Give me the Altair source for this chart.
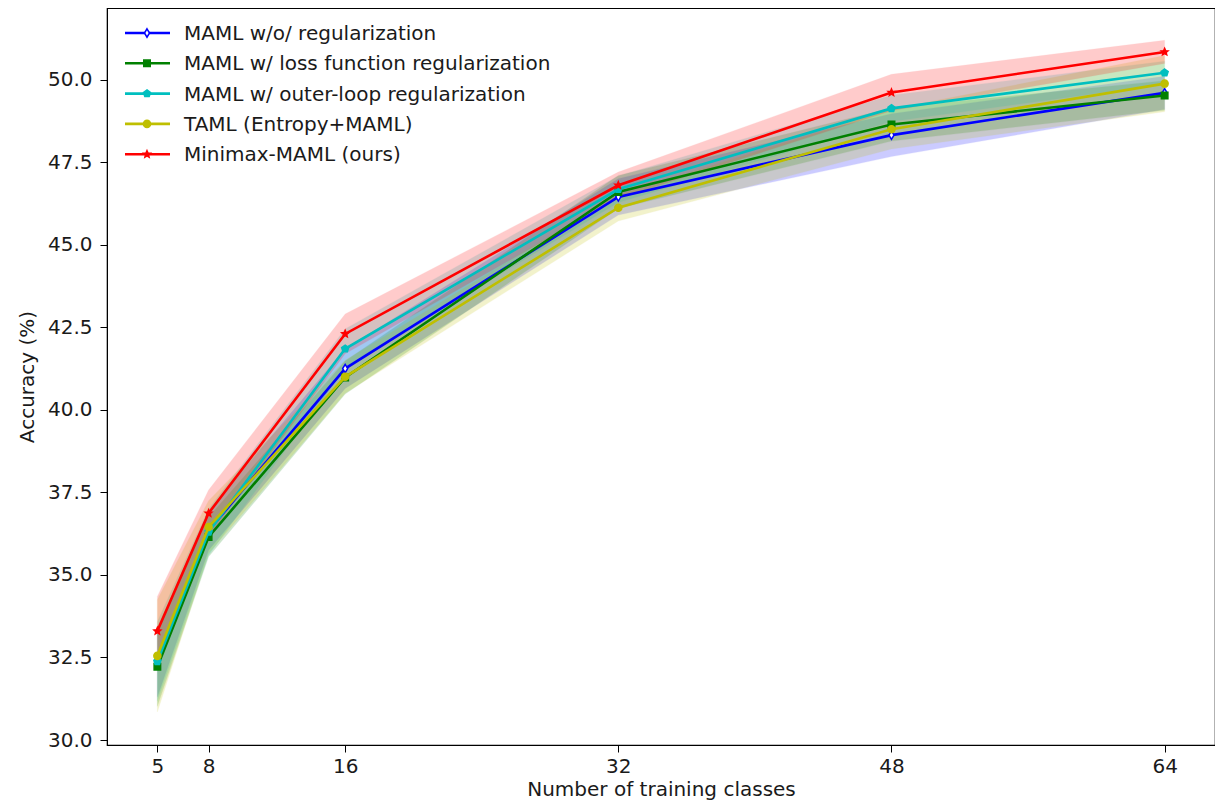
import math
import altair as alt
import pandas as pd

# ---------------- data ----------------
classes = [5, 8, 16, 32, 48, 64]
names = [
    "MAML w/o/ regularization",
    "MAML w/ loss function regularization",
    "MAML w/ outer-loop regularization",
    "TAML (Entropy+MAML)",
    "Minimax-MAML (ours)",
]
mean_blue = [32.30, 36.35, 41.25, 46.45, 48.32, 49.60]
mean_green = [32.22, 36.15, 40.98, 46.60, 48.64, 49.52]
mean_cyan = [32.38, 36.30, 41.85, 46.68, 49.13, 50.21]
mean_yellow = [32.55, 36.45, 41.00, 46.12, 48.50, 49.88]
mean_red = [33.30, 36.87, 42.30, 46.80, 49.61, 50.84]

std_blue = [1.00, 0.60, 0.60, 0.55, 0.65, 0.50]
std_green = [1.20, 0.60, 0.50, 0.50, 0.50, 0.45]
std_cyan = [1.20, 0.70, 0.60, 0.40, 0.40, 0.35]
std_yellow = [1.70, 0.80, 0.50, 0.40, 0.60, 0.85]
std_red = [1.05, 0.70, 0.60, 0.40, 0.55, 0.35]

means = [mean_blue, mean_green, mean_cyan, mean_yellow, mean_red]
stds = [std_blue, std_green, std_cyan, std_yellow, std_red]
colors = ["#0000ff", "#008000", "#00bfbf", "#bfbf00", "#ff0000"]

rows = []
for n, ms, ss in zip(names, means, stds):
    for x, m, s in zip(classes, ms, ss):
        rows.append({"series": n, "x": x, "y": m, "lo": m - s, "hi": m + s})
df = pd.DataFrame(rows)


# ---------------- marker shapes ----------------
def star_path(n=5, inner=0.45):
    pts = []
    for k in range(2 * n):
        r = 1.0 if k % 2 == 0 else inner
        a = -math.pi / 2 + k * math.pi / n
        pts.append((r * math.cos(a), r * math.sin(a)))
    return "M" + "L".join(f"{px:.3f},{py:.3f}" for px, py in pts) + "Z"


def poly_path(n=5):
    pts = []
    for k in range(n):
        a = -math.pi / 2 + k * 2 * math.pi / n
        pts.append((math.cos(a), math.sin(a)))
    return "M" + "L".join(f"{px:.3f},{py:.3f}" for px, py in pts) + "Z"


thin_diamond = "M0,-1L0.6,0L0,1L-0.6,0Z"
shapes = [thin_diamond, "square", poly_path(5), "circle", star_path()]
sizes = [70, 42, 55, 50, 50]
fills = ["white", colors[1], colors[2], colors[3], colors[4]]

FONT = "DejaVu Sans"
FS = 20

xs = alt.Scale(domain=[2.05, 66.95], nice=False, zero=False)
ys = alt.Scale(domain=[29.85, 52.17], nice=False, zero=False)
color = alt.Color("series:N", scale=alt.Scale(domain=names, range=colors), legend=None)

x_enc = alt.X(
    "x:Q",
    scale=xs,
    axis=alt.Axis(
        values=classes,
        title="Number of training classes",
        format="d",
        labelPadding=4,
        titlePadding=3,
    ),
)
y_enc = alt.Y(
    "lo:Q",
    scale=ys,
    axis=alt.Axis(
        values=[30 + 2.5 * i for i in range(9)],
        format=".1f",
        title="Accuracy (%)",
        labelPadding=8,
        titlePadding=10,
    ),
)

base = alt.Chart(df)

bands = base.mark_area(opacity=0.2, strokeWidth=1, strokeOpacity=0.25).encode(
    x=x_enc, y=y_enc, y2="hi:Q", color=color, stroke=color
)

layers = [bands]
for i, n in enumerate(names):
    sub = base.transform_filter(alt.datum.series == n)
    line = sub.mark_line(strokeWidth=2.6, color=colors[i]).encode(
        x=alt.X("x:Q", scale=xs), y=alt.Y("y:Q", scale=ys)
    )
    pts = sub.mark_point(
        shape=shapes[i], size=sizes[i], fill=fills[i], stroke=colors[i],
        strokeWidth=1.5, opacity=1, fillOpacity=1,
    ).encode(x=alt.X("x:Q", scale=xs), y=alt.Y("y:Q", scale=ys))
    layers += [line, pts]

# ---------------- legend (drawn manually, inside plot) ----------------
one = alt.Chart(pd.DataFrame({"k": [0]}))
for i, n in enumerate(names):
    yy = 25 + 30.3 * i
    layers.append(
        one.mark_rule(strokeWidth=2.6, color=colors[i]).encode(
            x=alt.value(18), x2=alt.value(63), y=alt.value(yy)
        )
    )
    layers.append(
        one.mark_point(
            shape=shapes[i], size=sizes[i], fill=fills[i], stroke=colors[i],
            strokeWidth=1.5, opacity=1, fillOpacity=1,
        ).encode(x=alt.value(40), y=alt.value(yy))
    )
    layers.append(
        one.mark_text(
            align="left", baseline="middle", font=FONT, fontSize=FS, color="#1a1a1a"
        ).encode(x=alt.value(77), y=alt.value(yy + 1), text=alt.value(n))
    )

chart = (
    alt.layer(*layers)
    .properties(
        width=1108,
        height=737,
        autosize=alt.AutoSizeParams(type="none"),
        padding={"left": 99, "top": 0, "right": 0, "bottom": 57},
    )
    .configure_view(stroke="black", strokeWidth=1.2)
    .configure_axis(
        grid=False,
        domainColor="black",
        tickColor="black",
        tickSize=7,
        labelFont=FONT,
        titleFont=FONT,
        labelFontSize=FS,
        titleFontSize=FS,
        labelColor="#1a1a1a",
        titleColor="#1a1a1a",
        titleFontWeight="normal",
    )
)

chart.save("out.html", embed_options={"renderer": "svg", "actions": False})
